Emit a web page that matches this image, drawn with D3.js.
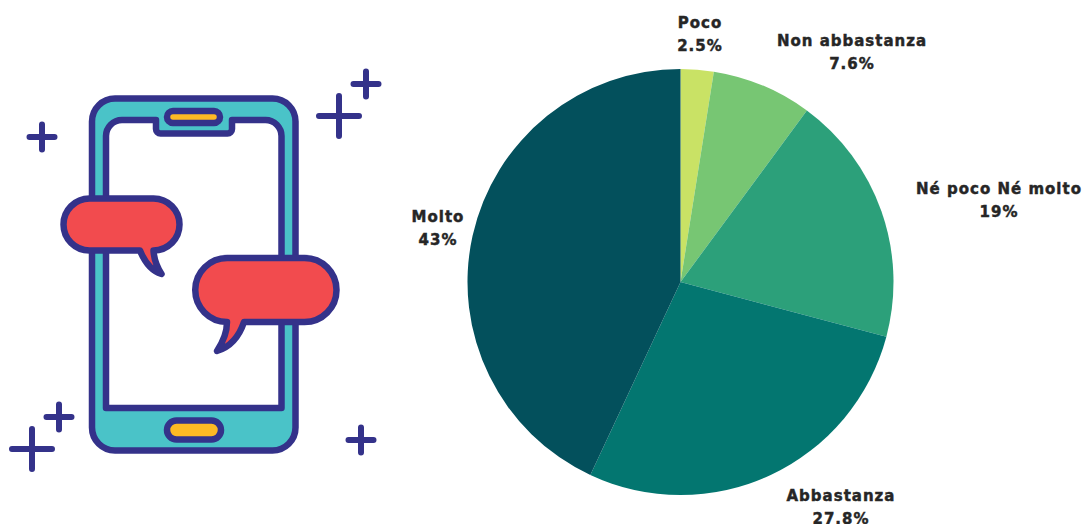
<!DOCTYPE html>
<html><head><meta charset="utf-8">
<script src="https://cdn.jsdelivr.net/npm/d3@7"></script>
<style>html,body{margin:0;background:#fff}svg{display:block}text{font-family:"DejaVu Sans";font-weight:700;fill:#262626;stroke:#262626;stroke-width:.45px;font-size:15px;letter-spacing:1px;text-anchor:middle}</style>
</head><body><svg id="c" width="1086" height="524"></svg>
<script>
const categories = ["Poco","Non abbastanza","Né poco Né molto","Abbastanza","Molto"];
const values = [2.5,7.6,19,27.8,43];
const valueLabels = ["2.5%","7.6%","19%","27.8%","43%"];
const colors = ["#c9e265","#77c673","#2ca07a","#037670","#03505c"];
const labelX = [700,852,999,841,438];
const labelY = [28,46,194,501,222];

const svg = d3.select("#c");
const ink = "#34328a", teal = "#4ac3c8", red = "#f24b4e", yellow = "#fdb924";

// illustration
const art = svg.append("g").attr("stroke",ink).attr("stroke-linejoin","round").attr("stroke-linecap","round");
art.append("rect").attr("x",92).attr("y",98.5).attr("width",203.5).attr("height",352).attr("rx",23)
  .attr("fill",teal).attr("stroke-width",6.5);
art.append("path").attr("fill","#fff").attr("stroke-width",6.5)
  .attr("d","M106 408V136A16 16 0 0 1 122 120H156V129A4.5 4.5 0 0 0 160.5 133.5H227.5A4.5 4.5 0 0 0 232 129V120H265.500A16 16 0 0 1 281.500 136V408Z");
art.append("rect").attr("x",167).attr("y",111).attr("width",53).attr("height",12).attr("rx",6)
  .attr("fill",yellow).attr("stroke-width",6.5);
art.append("rect").attr("x",167).attr("y",420.500).attr("width",54).attr("height",19).attr("rx",9.500)
  .attr("fill",yellow).attr("stroke-width",6.5);
art.append("path").attr("fill",red).attr("stroke-width",6.5)
  .attr("d","M89.500 198.500H153.500A26 26 0 0 1 153.500 250.500C154 260 157 267 161.500 274C152 271 145 263 140 250.500H89.500A26 26 0 0 1 89.500 198.500Z");
art.append("path").attr("fill",red).attr("stroke-width",6.5)
  .attr("d","M227.500 258H304.500A32 32 0 0 1 304.500 322H244C239 337 230 347 217 351C223 342 227 333 227 322A32 32 0 0 1 227.500 258Z");
const plus = [[42,137,12.500],[339,116,20],[366,84,12.500],[32,449,20],[59,417,12.500],[361,440,12.500]];
art.selectAll(".p").data(plus).join("path").attr("class","p").attr("fill","none").attr("stroke-width",6)
  .attr("d",d=>`M${d[0]-d[2]} ${d[1]}H${d[0]+d[2]}M${d[0]} ${d[1]-d[2]}V${d[1]+d[2]}`);

// pie
const pie = d3.pie().sort(null)(values);
const arc = d3.arc().innerRadius(0).outerRadius(213);
const g = svg.append("g").attr("transform","translate(680.5,282)");
g.selectAll("path").data(pie).join("path").attr("d",arc).attr("fill",(d,i)=>colors[i]);

// labels
const lab = svg.append("g");
categories.forEach((c,i)=>{
  lab.append("text").attr("x",labelX[i]).attr("y",labelY[i]).text(c);
  lab.append("text").attr("x",labelX[i]).attr("y",labelY[i]+23).text(valueLabels[i]);
});
</script></body></html>
